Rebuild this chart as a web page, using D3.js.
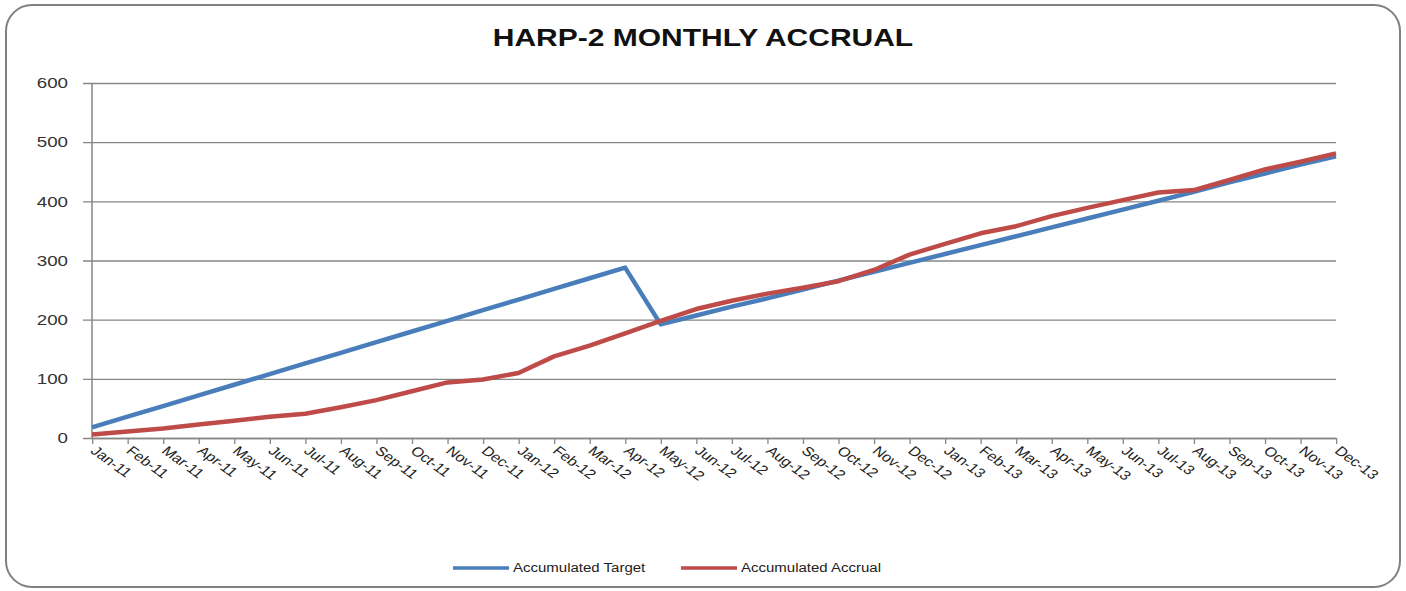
<!DOCTYPE html>
<html>
<head>
<meta charset="utf-8">
<script src="https://cdn.jsdelivr.net/npm/d3@7"></script>
<style>
  html, body { margin: 0; padding: 0; background: #fff; }
  svg { display: block; }
  text { font-family: "Liberation Sans", Arial, sans-serif; }
</style>
</head>
<body>
<svg id="chart"></svg>
<script>
// data
const months = ['Jan-11','Feb-11','Mar-11','Apr-11','May-11','Jun-11','Jul-11','Aug-11','Sep-11','Oct-11','Nov-11','Dec-11',
  'Jan-12','Feb-12','Mar-12','Apr-12','May-12','Jun-12','Jul-12','Aug-12','Sep-12','Oct-12','Nov-12','Dec-12',
  'Jan-13','Feb-13','Mar-13','Apr-13','May-13','Jun-13','Jul-13','Aug-13','Sep-13','Oct-13','Nov-13','Dec-13'];
const accumulatedTarget = [18, 36, 54, 72, 90, 108, 126, 144, 162, 180, 198, 216,
  234, 252, 270, 288, 192, 207, 222, 236, 251, 266, 281, 296,
  311, 326, 341, 356, 371, 386, 401, 416, 432, 447, 462, 476];
const accumulatedAccrual = [6, 11, 16, 23, 29, 36, 41, 52, 64, 79, 94, 99,
  110, 138, 156, 177, 198, 218, 232, 244, 254, 265, 284, 310,
  328, 346, 358, 375, 389, 402, 415, 419, 436, 454, 467, 481];
const yTicks = [0, 100, 200, 300, 400, 500, 600];
const seriesNames = ['Accumulated Target', 'Accumulated Accrual'];
const seriesColors = ['#4a7ebb', '#be4b48'];

// the original picture is stretched horizontally, so draw in a narrower box and stretch it
const S = 1.25;
const width = 1406, height = 591;
const W = width / S;

const svg = d3.select('#chart')
  .attr('width', width)
  .attr('height', height)
  .attr('viewBox', `0 0 ${W} ${height}`)
  .attr('preserveAspectRatio', 'none');

// outer frame
svg.append('rect')
  .attr('x', 6 / S).attr('y', 5)
  .attr('width', (1400 - 6) / S).attr('height', 582)
  .attr('rx', 26 / S).attr('ry', 26)
  .attr('fill', '#fff')
  .attr('stroke', '#808080')
  .attr('stroke-width', 2)
  .attr('vector-effect', 'non-scaling-stroke');

svg.append('text')
  .attr('x', 703 / S).attr('y', 46)
  .attr('text-anchor', 'middle')
  .style('font-size', '24px')
  .style('font-weight', 'bold')
  .attr('fill', '#111')
  .text('HARP-2 MONTHLY ACCRUAL');

const x = d3.scalePoint()
  .domain(months)
  .range([92 / S, 1336 / S]);

const y = d3.scaleLinear()
  .domain([0, 600])
  .range([438, 83]);

// gridlines + y axis
const yAxis = svg.append('g')
  .attr('transform', `translate(${92 / S},0)`)
  .call(d3.axisLeft(y).tickValues(yTicks).tickSize(-(1336 - 92) / S).tickPadding(0))
  .call(g => g.select('.domain').remove());
yAxis.selectAll('.tick line')
  .attr('x1', -9 / S)
  .attr('stroke', '#868686')
  .attr('stroke-width', 1.3)
  .attr('vector-effect', 'non-scaling-stroke');
yAxis.selectAll('.tick text')
  .attr('x', -24 / S)
  .attr('fill', '#333')
  .style('font-size', '15px')
  .style('font-family', '"Liberation Sans", Arial, sans-serif');

svg.append('line')
  .attr('x1', 92 / S).attr('x2', 92 / S)
  .attr('y1', 83).attr('y2', 438)
  .attr('stroke', '#868686')
  .attr('stroke-width', 1.5)
  .attr('vector-effect', 'non-scaling-stroke');

// x axis
const xAxis = svg.append('g')
  .attr('transform', 'translate(0,438)')
  .call(d3.axisBottom(x).tickSize(6).tickSizeOuter(0));
xAxis.select('.domain')
  .attr('stroke', '#868686')
  .attr('stroke-width', 1.5)
  .attr('vector-effect', 'non-scaling-stroke');
xAxis.selectAll('.tick line')
  .attr('stroke', '#868686')
  .attr('stroke-width', 1.3)
  .attr('vector-effect', 'non-scaling-stroke');
xAxis.selectAll('.tick text')
  .attr('y', 0).attr('dy', 0)
  .attr('text-anchor', 'start')
  .attr('transform', `translate(${-3 / S},14) rotate(42)`)
  .attr('fill', '#222')
  .style('font-size', '13px')
  .style('font-family', '"Liberation Sans", Arial, sans-serif');

// series lines
const line = d3.line()
  .x((d, i) => x(months[i]))
  .y(d => y(d));

[accumulatedTarget, accumulatedAccrual].forEach((vals, k) => {
  svg.append('path')
    .datum(vals)
    .attr('d', line)
    .attr('fill', 'none')
    .attr('stroke', seriesColors[k])
    .attr('stroke-width', 4.5)
    .attr('stroke-linejoin', 'round')
    .attr('vector-effect', 'non-scaling-stroke');
});

// legend
const legendX = [453, 681];
seriesNames.forEach((name, k) => {
  const g = svg.append('g');
  g.append('line')
    .attr('x1', legendX[k] / S).attr('x2', (legendX[k] + 56) / S)
    .attr('y1', 568).attr('y2', 568)
    .attr('stroke', seriesColors[k])
    .attr('stroke-width', 3.5)
    .attr('vector-effect', 'non-scaling-stroke');
  g.append('text')
    .attr('x', (legendX[k] + 60) / S).attr('y', 572)
    .style('font-size', '12px')
    .attr('fill', '#222')
    .text(name);
});
</script>
</body>
</html>
